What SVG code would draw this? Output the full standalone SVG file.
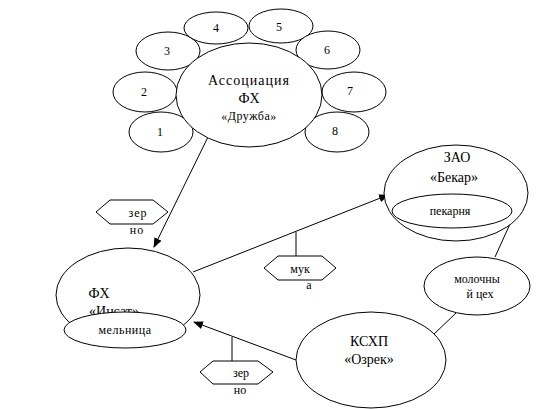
<svg xmlns="http://www.w3.org/2000/svg" width="541" height="409" viewBox="0 0 541 409">
<style>
.n{fill:#fff;stroke:#000;stroke-width:1}
text{font-family:"Liberation Serif","Times New Roman",serif;fill:#000;text-anchor:middle}
.b{font-size:14px}
.s{font-size:12px}
.c{stroke:#000;stroke-width:1;fill:none}
</style>
<defs>
<marker id="ah" markerWidth="10" markerHeight="8" refX="9" refY="4" orient="auto" markerUnits="userSpaceOnUse">
<path d="M0,0 L10,4 L0,8 Z" fill="#000"/>
</marker>
</defs>
<g id="connectors">
<line class="c" x1="208" y1="137" x2="154" y2="247" marker-end="url(#ah)"/>
<line class="c" x1="193" y1="272" x2="388" y2="195" marker-end="url(#ah)"/>
<line class="c" x1="296" y1="360" x2="194" y2="322" marker-end="url(#ah)"/>
<line class="c" x1="520" y1="202" x2="495" y2="257"/>
<line class="c" x1="456" y1="313" x2="433" y2="335"/>
<line class="c" x1="296" y1="232" x2="296" y2="256"/>
<line class="c" x1="232" y1="337" x2="232" y2="361"/>
</g>
<g id="n1"><ellipse class="n" cx="161" cy="132" rx="32" ry="20"/><text class="s" x="160" y="136">1</text></g>
<g id="n2"><ellipse class="n" cx="145" cy="92" rx="32" ry="20"/><text class="s" x="144" y="96">2</text></g>
<g id="n3"><ellipse class="n" cx="168" cy="51" rx="32" ry="19"/><text class="s" x="167" y="55">3</text></g>
<g id="n4"><ellipse class="n" cx="216" cy="28" rx="32" ry="16"/><text class="s" x="216" y="32">4</text></g>
<g id="n5"><ellipse class="n" cx="281" cy="26" rx="32" ry="17"/><text class="s" x="279" y="31">5</text></g>
<g id="n6"><ellipse class="n" cx="328" cy="50" rx="32" ry="19"/><text class="s" x="327" y="54">6</text></g>
<g id="n7"><ellipse class="n" cx="354" cy="92" rx="32" ry="20"/><text class="s" x="350" y="95">7</text></g>
<g id="n8"><ellipse class="n" cx="337" cy="132" rx="32" ry="20"/><text class="s" x="335" y="135">8</text></g>
<g id="assoc"><ellipse class="n" cx="249" cy="95" rx="73" ry="52"/>
<text class="b" x="249" y="85" letter-spacing="1">Ассоциация</text>
<text class="b" x="249" y="103">ФХ</text>
<text class="s" x="249" y="120" letter-spacing="0.5">«Дружба»</text></g>
<g id="insat"><ellipse class="n" cx="128" cy="295" rx="72" ry="47"/>
<text class="b" x="99" y="298">ФХ</text>
<text class="b" x="114" y="316">«Инсат»</text>
<ellipse class="n" cx="125" cy="330" rx="61" ry="18"/>
<text class="s" x="125" y="334" letter-spacing="0.5">мельница</text></g>
<g id="bekar"><ellipse class="n" cx="456" cy="193" rx="72" ry="48"/>
<text class="b" x="457" y="162">ЗАО</text>
<text class="b" x="454" y="182">«Бекар»</text>
<ellipse class="n" cx="452" cy="211" rx="60" ry="17"/>
<text class="s" x="450" y="215">пекарня</text></g>
<g id="moloch"><ellipse class="n" cx="477" cy="286" rx="53" ry="29"/>
<text class="s" x="477" y="283">молочны</text>
<text class="s" x="480" y="298">й цех</text></g>
<g id="ksxp"><ellipse class="n" cx="371" cy="360" rx="75" ry="48"/>
<text class="b" x="369" y="346">КСХП</text>
<text class="b" x="369" y="364">«Озрек»</text></g>
<g id="label-zerno1"><polygon class="n" points="96,212 110,200 153,200 168,212 153,224 110,224"/>
<text class="s" x="138" y="217" letter-spacing="1">зер</text>
<text class="s" x="137" y="234" letter-spacing="1">но</text></g>
<g id="label-muka"><polygon class="n" points="264,268 278,256 322,256 336,268 322,280 278,280"/>
<text class="s" x="300" y="273">мук</text>
<text class="s" x="309" y="289">а</text></g>
<g id="label-zerno2"><polygon class="n" points="200,372 213,361 258,361 273,372 258,384 213,384"/>
<text class="s" x="241" y="377">зер</text>
<text class="s" x="240" y="394">но</text></g>
</svg>
